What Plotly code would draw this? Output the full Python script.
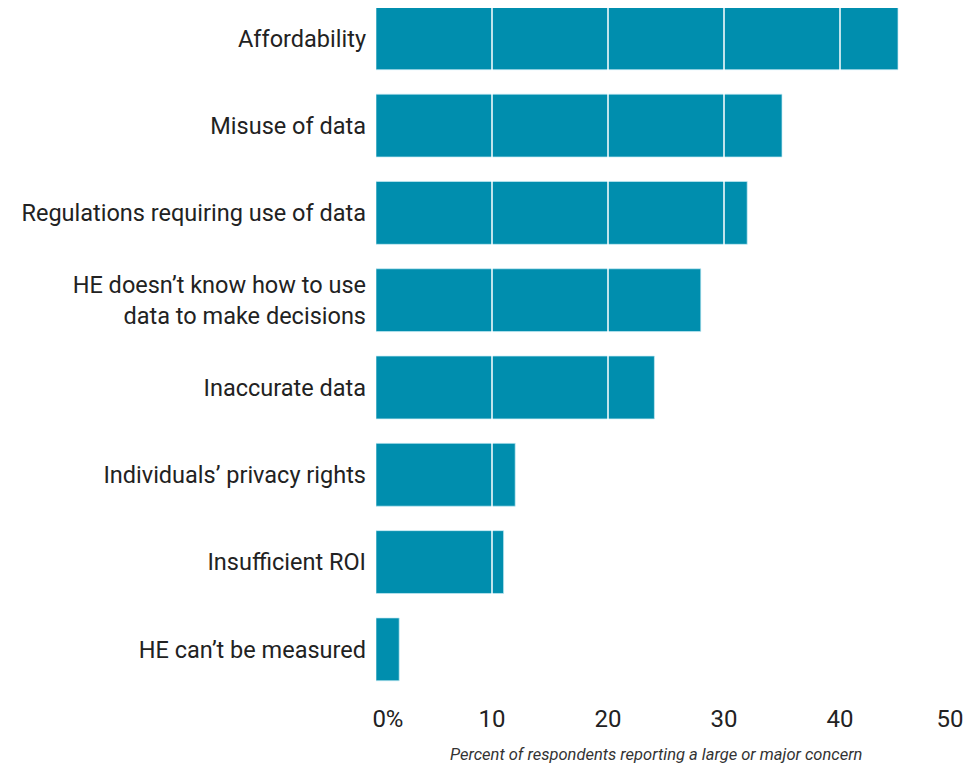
import plotly.graph_objects as go

categories = [
    "Affordability",
    "Misuse of data",
    "Regulations requiring use of data",
    "HE doesn’t know how to use<br>data to make decisions",
    "Inaccurate data",
    "Individuals’ privacy rights",
    "Insufficient ROI",
    "HE can’t be measured",
]
values = [45, 35, 32, 28, 24, 12, 11, 2]
tick_vals = [0, 10, 20, 30, 40, 50]
tick_text = ["\u00a0\u00a0\u00a0\u00a00%", "10", "20", "30", "40", "50\u00a0\u00a0"]
x_title = "Percent of respondents reporting a large or major concern"

BAR = "#008eae"
FONT = "Roboto"

fig = go.Figure(
    go.Bar(
        x=values,
        y=categories,
        orientation="h",
        marker=dict(color=BAR, line=dict(color="rgba(200,235,245,0.7)", width=1)),
        width=0.72,
        hoverinfo="x+y",
    )
)

shapes = [
    dict(type="line", xref="x", yref="paper", x0=v, x1=v, y0=0, y1=1,
         line=dict(color="white", width=1.5), layer="above")
    for v in tick_vals[1:-1]
]

fig.update_layout(
    width=966,
    height=758,
    margin=dict(l=368, r=18, t=0, b=73),
    paper_bgcolor="white",
    plot_bgcolor="white",
    showlegend=False,
    font=dict(family=FONT, color="#222222", size=23.5),
    shapes=shapes,
    annotations=[
        dict(text=x_title, xref="paper", yref="paper", x=0.483, y=0,
             xanchor="center", yanchor="middle", yshift=-61, showarrow=False,
             font=dict(family=FONT, size=16.5, color="#333333", style="italic"))
    ],
    xaxis=dict(
        range=[0, 50],
        tickvals=tick_vals,
        ticktext=tick_text,
        showgrid=False,
        zeroline=False,
        showline=False,
        ticks="",
        ticklabelstandoff=9,
        ticklabeloverflow="allow",
        tickfont=dict(family=FONT, size=24, color="#222222"),
        fixedrange=True,
    ),
    yaxis=dict(
        categoryorder="array",
        categoryarray=categories,
        range=[7.5, -0.347],
        showgrid=False,
        zeroline=False,
        showline=False,
        ticks="",
        ticklabelstandoff=9,
        tickfont=dict(family=FONT, size=23.5, color="#222222"),
        fixedrange=True,
    ),
)

fig.write_html("out.html")
